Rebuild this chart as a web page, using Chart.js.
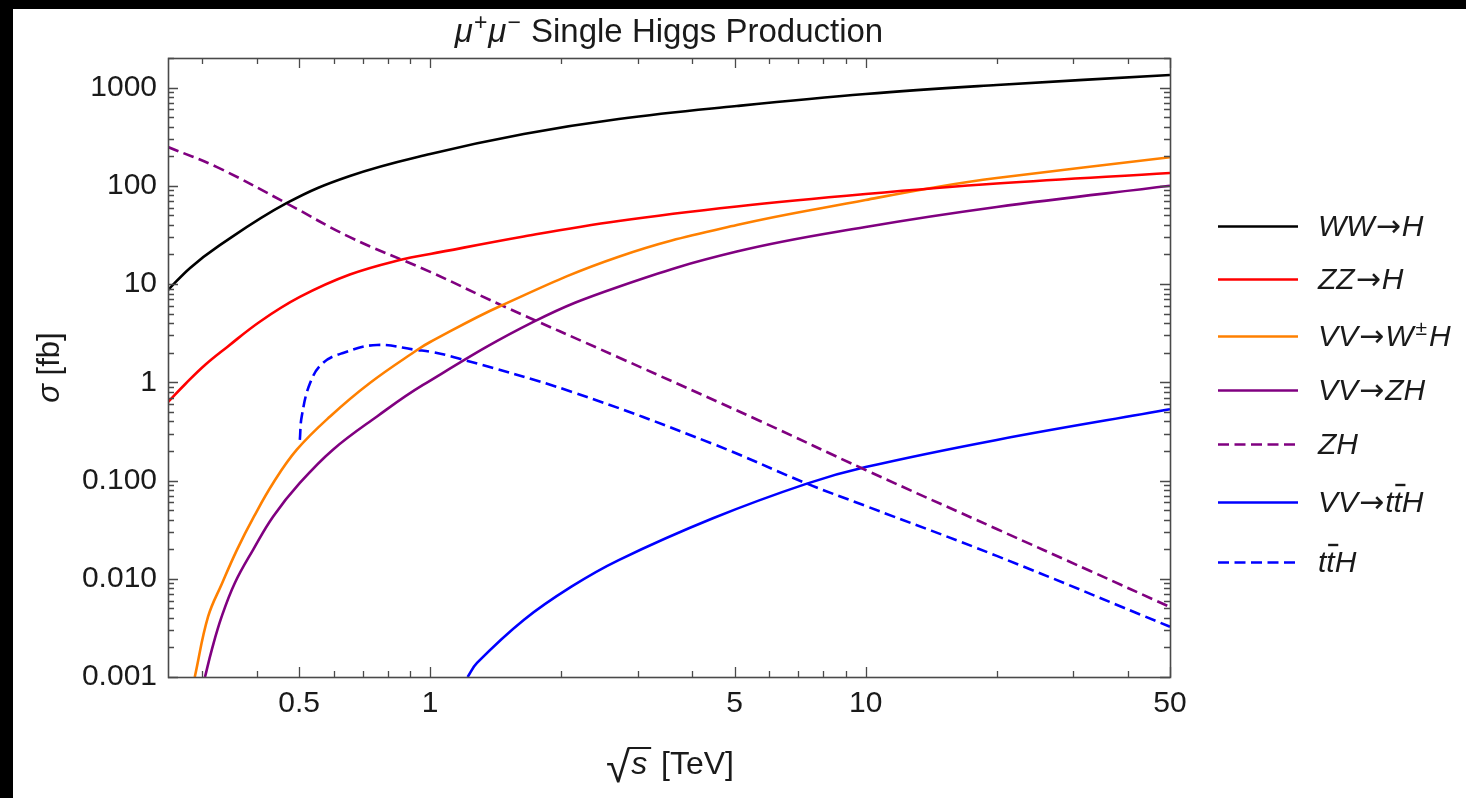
<!DOCTYPE html>
<html>
<head>
<meta charset="utf-8">
<script src="https://cdn.jsdelivr.net/npm/chart.js@4.4.1/dist/chart.umd.min.js"></script>
<style>
  html, body { margin: 0; padding: 0; background: #000; width: 1466px; height: 798px; overflow: hidden; }
  #panel { position: absolute; left: 13px; top: 9px; width: 1453px; height: 789px; background: #fff; }
  canvas { display: block; }
</style>
</head>
<body>
<div id="panel"><canvas id="c" width="1453" height="789"></canvas></div>
<script>
// Centre-of-mass energy sqrt(s) in TeV and cross sections in fb, per production channel
const wwEnergy = [0.25, 0.281, 0.324, 0.469, 0.654, 1.0, 1.64, 2.71, 5.06, 10, 20, 50];
const wwSigma  = [8.70, 14.6, 23.8, 66.9, 126, 211, 337, 479, 649, 860, 1062, 1343];

const zzEnergy = [0.25, 0.274, 0.304, 0.342, 0.407, 0.502, 0.654, 0.866, 1.0, 1.64, 2.71, 5.06, 10, 20, 50];
const zzSigma  = [0.630, 0.961, 1.50, 2.29, 4.16, 7.39, 12.5, 17.9, 20.2, 30.5, 43.9, 61.6, 82.5, 105.6, 135.1];

const vvwEnergy = [0.288, 0.309, 0.333, 0.360, 0.394, 0.436, 0.494, 0.589, 0.727, 0.933, 1.0, 1.454, 2.71, 5.06, 10, 14.7, 20, 50];
const vvwSigma  = [0.001, 0.00411, 0.00906, 0.0197, 0.0431, 0.0944, 0.206, 0.449, 0.984, 2.13, 2.57, 6.02, 19.0, 39.9, 71.7, 98.0, 120.1, 195.2];

const vvzEnergy = [0.304, 0.315, 0.332, 0.356, 0.392, 0.436, 0.502, 0.598, 0.755, 0.963, 1.73, 2.71, 5.06, 10, 20, 50];
const vvzSigma  = [0.001, 0.00188, 0.00411, 0.00906, 0.0197, 0.0431, 0.0944, 0.206, 0.449, 0.939, 4.14, 9.40, 21.4, 38.1, 60.9, 100];

const zhEnergy = [0.25, 0.324, 0.469, 0.654, 1.0, 1.454, 2.71, 5.72, 10, 20, 32.8, 50];
const zhSigma  = [248, 155, 66.1, 30.0, 13.3, 6.12, 1.79, 0.404, 0.128, 0.0321, 0.0120, 0.00516];

const vvttEnergy = [1.219, 1.281, 1.64, 2.11, 2.71, 4.46, 7.33, 10, 20, 50];
const vvttSigma  = [0.001, 0.00139, 0.00381, 0.00831, 0.0155, 0.0413, 0.093, 0.137, 0.259, 0.531];

const tthEnergy = [0.502, 0.507, 0.530, 0.567, 0.631, 0.755, 0.933, 1.0, 1.158, 2.11, 4.46, 7.33, 10, 20, 50];
const tthSigma  = [0.259, 0.448, 0.984, 1.57, 1.99, 2.40, 2.13, 2.05, 1.76, 0.802, 0.236, 0.093, 0.0551, 0.0171, 0.00325];

// Axis ticks
const xTickValues = [0.3, 0.4, 0.5, 0.6, 0.7, 0.8, 0.9, 1, 2, 3, 4, 5, 6, 7, 8, 9, 10, 20, 30, 40, 50];
const xMajorTicks = [0.5, 1, 5, 10, 50];
const xTickLabels = ['0.5', '1', '5', '10', '50'];
const yMajorTicks = [0.001, 0.01, 0.1, 1, 10, 100, 1000];
const yTickLabels = ['0.001', '0.010', '0.100', '1', '10', '100', '1000'];

const FONT = '"Liberation Sans", Arial, Helvetica, sans-serif';
const SYMBOL_FONT = '"DejaVu Sans", sans-serif';
const FRAME = '#4a4a4a';
const INK = '#1a1a1a';
const DASH = [11, 5.5];

const yTickValues = [];
for (let e = -3; e <= 3; e++) {
  for (let m = 1; m <= 9; m++) {
    const v = Number((m * Math.pow(10, e)).toPrecision(3));
    if (v <= 2000) yTickValues.push(v);
  }
}

function series(label, xs, ys, color, dash) {
  return {
    label,
    data: xs.map((x, i) => ({ x, y: ys[i] })),
    borderColor: color,
    backgroundColor: color,
    borderWidth: 2.6,
    borderDash: dash,
    pointRadius: 0,
    pointHoverRadius: 0,
    fill: false,
    tension: 0.4,
    clip: 0
  };
}

const datasets = [
  series('WW\u2192H', wwEnergy, wwSigma, '#000000', []),
  series('ZZ\u2192H', zzEnergy, zzSigma, '#ff0000', []),
  series('VV\u2192W\u00b1H', vvwEnergy, vvwSigma, '#ff8000', []),
  series('VV\u2192ZH', vvzEnergy, vvzSigma, '#800080', []),
  series('ZH', zhEnergy, zhSigma, '#800080', DASH),
  series('VV\u2192tt\u0304H', vvttEnergy, vvttSigma, '#0000ff', []),
  series('tt\u0304H', tthEnergy, tthSigma, '#0000ff', DASH)
];

// Split a label into runs: '±' is raised, '→' uses the symbol font,
// a combining macron puts a bar over the glyph before it
function labelParts(str, italic) {
  const parts = [];
  for (const ch of str) {
    if (ch === '\u0304') { if (parts.length) parts[parts.length - 1].bar = true; continue; }
    if (ch === '\u00b1') { parts.push({ t: ch, sup: true, gap: 2 }); continue; }
    if (ch === '\u2192') { parts.push({ t: ch, symbol: true, gap: 1 }); continue; }
    parts.push({ t: ch, italic });
  }
  return parts;
}

function drawParts(ctx, parts, x, baseline, size, align) {
  const fontOf = p => (p.italic ? 'italic ' : '') + Math.round(p.sup ? size * 0.7 : size) + 'px ' + (p.symbol ? SYMBOL_FONT : FONT);
  let total = 0;
  const widths = parts.map(p => {
    ctx.font = fontOf(p);
    const w = ctx.measureText(p.t).width + (p.gap || 0) * 2;
    total += w;
    return w;
  });
  let cx = align === 'center' ? x - total / 2 : (align === 'right' ? x - total : x);
  ctx.textAlign = 'left';
  ctx.textBaseline = 'alphabetic';
  parts.forEach((p, i) => {
    ctx.font = fontOf(p);
    const dy = p.sup ? -size * 0.36 : 0;
    ctx.fillText(p.t, cx + (p.gap || 0), baseline + dy);
    if (p.bar) {
      ctx.save();
      ctx.strokeStyle = ctx.fillStyle;
      ctx.lineWidth = Math.max(2, size * 0.08);
      const by = baseline - size * 0.9;
      ctx.beginPath();
      ctx.moveTo(cx + size * 0.06, by);
      ctx.lineTo(cx + widths[i] + size * 0.12, by);
      ctx.stroke();
      ctx.restore();
    }
    cx += widths[i];
  });
  return total;
}

// Frame around the plot with inward ticks on all four sides
const frameTicks = {
  id: 'frameTicks',
  afterDatasetsDraw(chart) {
    const { ctx, chartArea: a, scales: { x, y } } = chart;
    const snap = v => Math.round(v) + 0.5;
    ctx.save();
    ctx.strokeStyle = FRAME;
    ctx.lineWidth = 1.3;
    ctx.setLineDash([]);
    ctx.beginPath();
    x.ticks.forEach(t => {
      const px = snap(x.getPixelForValue(t.value));
      const len = xMajorTicks.includes(t.value) ? 10 : 6;
      ctx.moveTo(px, a.bottom); ctx.lineTo(px, a.bottom - len);
      ctx.moveTo(px, a.top); ctx.lineTo(px, a.top + len);
    });
    y.ticks.forEach(t => {
      const py = snap(y.getPixelForValue(t.value));
      const len = yMajorTicks.includes(t.value) ? 10 : 6;
      ctx.moveTo(a.left, py); ctx.lineTo(a.left + len, py);
      ctx.moveTo(a.right, py); ctx.lineTo(a.right - len, py);
    });
    ctx.stroke();
    ctx.lineWidth = 1.6;
    ctx.strokeRect(snap(a.left), snap(a.top), Math.round(a.right - a.left), Math.round(a.bottom - a.top));
    ctx.restore();
  }
};

// Title, axis titles and the legend
const annotations = {
  id: 'annotations',
  afterDraw(chart) {
    const { ctx, chartArea: a } = chart;
    const midX = (a.left + a.right) / 2;
    const midY = (a.top + a.bottom) / 2;
    ctx.save();
    ctx.fillStyle = INK;

    // title
    drawParts(ctx, [
      { t: '\u03bc', italic: true }, { t: '+', sup: true, gap: 1 },
      { t: '\u03bc', italic: true }, { t: '\u2212', sup: true, gap: 1 },
      { t: ' Single Higgs Production' }
    ], midX, 33, 33, 'center');

    // x axis title: sqrt(s) [TeV]
    const size = 32;
    const rootFont = '44px ' + FONT;
    ctx.font = rootFont;
    const rootM = ctx.measureText('\u221a');
    const rootW = rootM.width;
    ctx.font = 'italic ' + size + 'px ' + FONT;
    const sW = ctx.measureText('s').width;
    ctx.font = size + 'px ' + FONT;
    const restW = ctx.measureText(' [TeV]').width;
    const total = rootW + sW + 6 + restW;
    let cx = midX + 1 - total / 2;
    const base = 765;
    const rootBase = base + 8;
    ctx.textAlign = 'left';
    ctx.textBaseline = 'alphabetic';
    ctx.font = rootFont;
    ctx.fillText('\u221a', cx, rootBase);
    const topY = rootBase - rootM.actualBoundingBoxAscent + 1;
    ctx.strokeStyle = INK;
    ctx.lineWidth = 2;
    ctx.beginPath();
    ctx.moveTo(cx + rootW - 2, topY);
    ctx.lineTo(cx + rootW + sW + 5, topY);
    ctx.stroke();
    cx += rootW;
    ctx.font = 'italic ' + size + 'px ' + FONT;
    ctx.fillText('s', cx + 1, base);
    cx += sW + 6;
    ctx.font = size + 'px ' + FONT;
    ctx.fillText(' [TeV]', cx, base);

    // y axis title
    ctx.save();
    ctx.translate(46, midY);
    ctx.rotate(-Math.PI / 2);
    drawParts(ctx, [{ t: '\u03c3', italic: true }, { t: ' [fb]' }], 0, 0, 31, 'center');
    ctx.restore();

    // legend
    const rowY = [217, 270, 327, 381, 435, 493, 553];
    chart.data.datasets.forEach((ds, i) => {
      const yy = rowY[i];
      ctx.save();
      ctx.strokeStyle = ds.borderColor;
      ctx.lineWidth = 2.6;
      ctx.setLineDash(ds.borderDash || []);
      ctx.beginPath();
      ctx.moveTo(1205, yy + 0.5);
      ctx.lineTo(1285, yy + 0.5);
      ctx.stroke();
      ctx.restore();
      ctx.fillStyle = INK;
      drawParts(ctx, labelParts(ds.label, true), 1305, yy + 10, 30, 'left');
    });
    ctx.restore();
  }
};

new Chart(document.getElementById('c'), {
  type: 'line',
  data: { datasets },
  options: {
    responsive: false,
    animation: false,
    events: [],
    layout: { padding: { left: 0, right: 296, top: 49, bottom: 0 } },
    plugins: { legend: { display: false }, title: { display: false }, tooltip: { enabled: false } },
    scales: {
      x: {
        type: 'logarithmic',
        min: 0.25, max: 50,
        afterBuildTicks: s => { s.ticks = xTickValues.map(v => ({ value: v })); },
        afterFit: s => { s.height = 121; },
        grid: { display: false, drawTicks: false },
        border: { display: false },
        ticks: {
          autoSkip: false, maxRotation: 0, minRotation: 0, padding: 9,
          color: INK, font: { family: FONT, size: 30 },
          callback: v => { const k = xMajorTicks.indexOf(v); return k >= 0 ? xTickLabels[k] : ''; }
        }
      },
      y: {
        type: 'logarithmic',
        min: 0.001, max: 2000,
        afterBuildTicks: s => { s.ticks = yTickValues.map(v => ({ value: v })); },
        afterFit: s => { s.width = 155; },
        grid: { display: false, drawTicks: false },
        border: { display: false },
        ticks: {
          autoSkip: false, padding: 11,
          color: INK, font: { family: FONT, size: 30 },
          callback: v => { const k = yMajorTicks.indexOf(v); return k >= 0 ? yTickLabels[k] : ''; }
        }
      }
    }
  },
  plugins: [frameTicks, annotations]
});
</script>
</body>
</html>
